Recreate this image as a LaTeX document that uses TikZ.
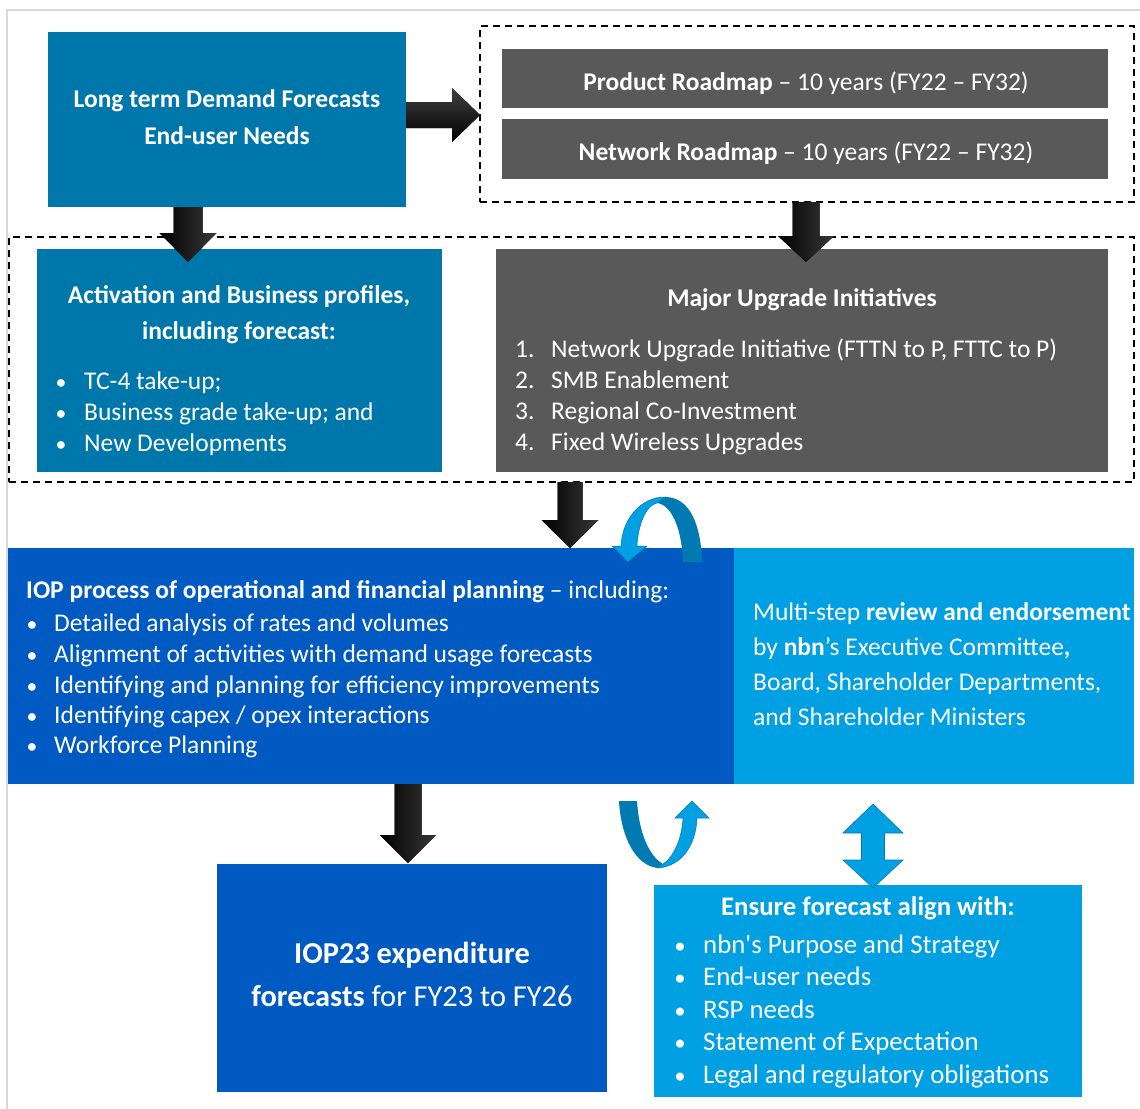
\documentclass[tikz,border=0pt]{standalone}
\usepackage{fontspec}
\setmainfont{Carlito}
\definecolor{tealA}{RGB}{0,119,170}
\definecolor{greyA}{RGB}{89,89,89}
\definecolor{iopB}{RGB}{0,90,194}
\definecolor{lightB}{RGB}{0,160,226}
\definecolor{curveD}{RGB}{0,122,176}
\newcommand\blkdown[6]{%
  \fill[blk] (#1-#2,#4) -- (#1+#2,#4) -- (#1+#2,#5) -- (#1+#3,#5) -- (#1,#6) -- (#1-#3,#5) -- (#1-#2,#5) -- cycle;}
\newcommand\bul{\makebox[0pt][c]{\scalebox{0.85}{•}}}
\begin{document}
\begin{tikzpicture}[x=1pt,y=-1pt,
  box/.style={rectangle, inner sep=0pt, outer sep=0pt, anchor=north west, draw=none},
  dashbox/.style={box, draw=black, line width=1.8pt, dash pattern=on 7pt off 5pt},
  txt/.style={text=white, inner sep=0pt, font=\fontsize{25.5}{30}\selectfont},
  btxt/.style={txt, font=\fontsize{25.5}{30}\selectfont\bfseries},
  etxt/.style={txt, font=\fontsize{26.8}{32}\selectfont},
  blk/.style={left color=black, right color=black!78},
]
\useasboundingbox (0,0) rectangle (1140,1108);
\fill[white] (0,0) rectangle (1140,1108);
\draw[black!15, line width=1.5pt] (7,1110) -- (7,10) -- (1142,10);

% boxes
\node[box, fill=tealA, minimum width=358, minimum height=175] (ltd) at (48,32) {};
\node[dashbox, minimum width=654, minimum height=176] (road) at (480,26) {};
\node[box, fill=greyA, minimum width=606, minimum height=59] (prod) at (502,49) {};
\node[box, fill=greyA, minimum width=606, minimum height=60] (net) at (502,119) {};
\node[dashbox, minimum width=1125, minimum height=245] (mid) at (9,237) {};
\node[box, fill=tealA, minimum width=405, minimum height=223] (act) at (37,249) {};
\node[box, fill=greyA, minimum width=612, minimum height=223] (maj) at (496,249) {};
\node[box, fill=iopB, minimum width=726, minimum height=236] (iop) at (8,548) {};
\node[box, fill=lightB, minimum width=400, minimum height=236] (rev) at (734,548) {};
\node[box, fill=iopB, minimum width=390, minimum height=228] (iopf) at (217,864) {};
\node[box, fill=lightB, minimum width=428, minimum height=212] (ens) at (654,885) {};

% texts: long term demand
\node[btxt, anchor=base] (ltd1) at (227,107) {Long term Demand Forecasts};
\node[btxt, anchor=base] (ltd2) at (227,144) {End-user Needs};
% roadmaps
\node[txt, anchor=base] (prodt) at (806,90) {\textbf{Product Roadmap} – 10 years (FY22 – FY32)};
\node[txt, anchor=base] (nett) at (806,160) {\textbf{Network Roadmap} – 10 years (FY22 – FY32)};
% activation
\node[btxt, anchor=base] (act1) at (239,303) {Activation and Business profiles,};
\node[btxt, anchor=base] (act2) at (239,339) {including forecast:};
\foreach \y/\t [count=\i] in {389/{TC-4 take-up;}, 420/{Business grade take-up; and}, 451/{New Developments}}{
  \node[txt, anchor=base] (actb\i) at (61,\y) {\bul};
  \node[txt, anchor=base west] (actt\i) at (84,\y) {\t};
}
% major upgrade
\node[btxt, anchor=base] (maj0) at (802,306) {Major Upgrade Initiatives};
\foreach \y/\t [count=\i] in {357/{Network Upgrade Initiative (FTTN to P, FTTC to P)}, 388/{SMB Enablement}, 419/{Regional Co-Investment}, 450/{Fixed Wireless Upgrades}}{
  \node[txt, anchor=base west] (majn\i) at (515,\y) {\i.};
  \node[txt, anchor=base west] (majt\i) at (551,\y) {\t};
}
% IOP
\node[txt, anchor=base west] (iop0) at (26,598) {\textbf{IOP process of operational and financial planning} – including:};
\foreach \y/\t [count=\i] in {631/{Detailed analysis of rates and volumes}, 662/{Alignment of activities with demand usage forecasts}, 693/{Identifying and planning for efficiency improvements}, 723/{Identifying capex / opex interactions}, 753/{Workforce Planning}}{
  \node[txt, anchor=base] (iopb\i) at (32,\y) {\bul};
  \node[txt, anchor=base west] (iopt\i) at (54,\y) {\t};
}
% review
\node[txt, anchor=base west] (rev1) at (753,620) {Multi-step \textbf{review and endorsement}};
\node[txt, anchor=base west] (rev2) at (753,655) {by \textbf{nbn}’s Executive Committee\textbf{,}};
\node[txt, anchor=base west] (rev3) at (753,690) {Board, Shareholder Departments,};
\node[txt, anchor=base west] (rev4) at (753,725) {and Shareholder Ministers};
% IOP23
\node[txt, anchor=base, font=\fontsize{30.4}{36}\selectfont\bfseries] (iopf1) at (412,963) {IOP23 expenditure};
\node[txt, anchor=base, font=\fontsize{30.4}{36}\selectfont] (iopf2) at (412,1006) {\textbf{forecasts} for FY23 to FY26};
% ensure
\node[etxt, anchor=base, font=\fontsize{26.8}{32}\selectfont\bfseries] (ens0) at (868,915) {Ensure forecast align with:};
\foreach \y/\t [count=\i] in {953/{nbn\textquotesingle s Purpose and Strategy}, 985/{End-user needs}, 1018/{RSP needs}, 1050/{Statement of Expectation}, 1083/{Legal and regulatory obligations}}{
  \node[etxt, anchor=base] (ensb\i) at (680,\y) {\bul};
  \node[etxt, anchor=base west] (enst\i) at (703,\y) {\t};
}

% block arrows
\fill[top color=black!75, bottom color=black] (406,102) -- (452,102) -- (452,88) -- (480,115) -- (452,142) -- (452,128) -- (406,128) -- cycle;
\blkdown{188}{14.5}{28.5}{207}{233}{262}
\blkdown{806}{13.5}{28}{202}{236}{262}
\blkdown{570}{12.5}{28.5}{482}{520}{548}
\blkdown{408}{13.5}{28}{784}{835}{863}

% curved arrow top
\fill[curveD] (665,497) .. controls (690,497) and (701,525) .. (702,562) -- (683,562) .. controls (682,532) and (673,505) .. (657,503) -- cycle;
\filldraw[fill=lightB, draw=curveD, line width=0.5pt] (665,497) .. controls (640,497) and (622,520) .. (621,546) -- (612,546) -- (628,562) -- (647,546) -- (637,546) .. controls (638,525) and (646,505) .. (657,503) -- cycle;
% curved arrow bottom
\fill[curveD] (619,801) -- (637,801) .. controls (639,833) and (649,856) .. (663,864) -- (658,868) .. controls (636,866) and (621,838) .. (619,801) -- cycle;
\filldraw[fill=lightB, draw=curveD, line width=0.5pt] (658,868) .. controls (682,866) and (696,845) .. (697,818) -- (709,818) -- (692,801) -- (675,818) -- (683,818) .. controls (682,838) and (674,857) .. (663,864) -- cycle;
% double arrow
\filldraw[fill=lightB, draw=curveD, line width=0.6pt] (873,804) -- (903,833) -- (884.5,833) -- (884.5,860) -- (903,860) -- (873,888) -- (843,860) -- (861.5,860) -- (861.5,833) -- (843,833) -- cycle;
\end{tikzpicture}
\end{document}
